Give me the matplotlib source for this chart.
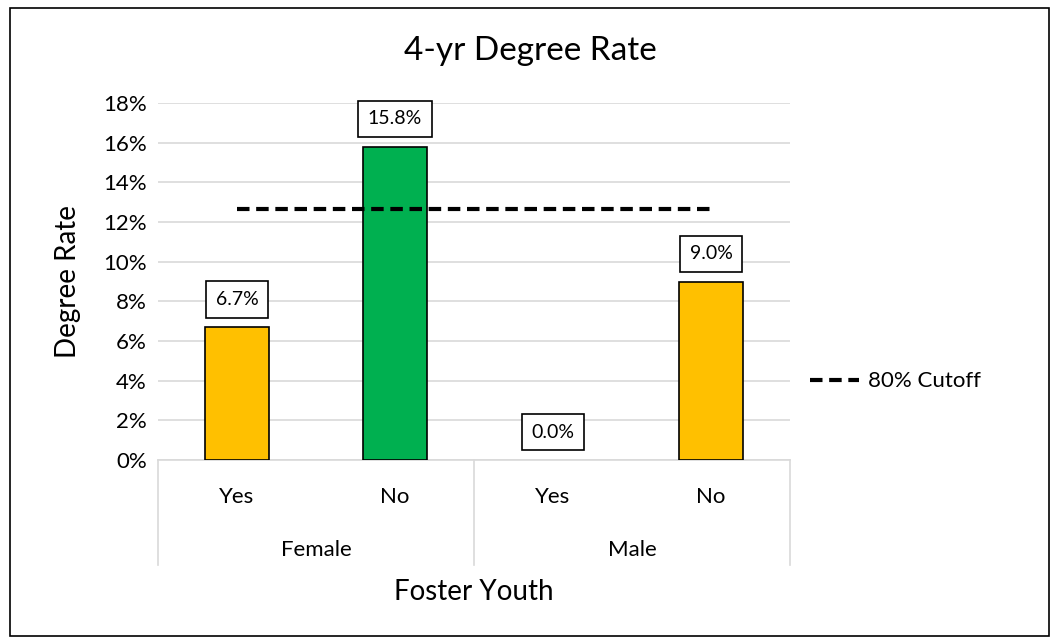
import matplotlib.pyplot as plt
from matplotlib.patches import Rectangle
from matplotlib.lines import Line2D

plt.rcParams['font.family'] = ['Lato', 'DejaVu Sans']

# data
genders = ["Female", "Male"]
foster = ["Yes", "No", "Yes", "No"]
rates = [6.7, 15.8, 0.0, 9.0]
bar_colors = ["#ffc000", "#00b050", "#ffc000", "#ffc000"]
cutoff = 12.64   # 80% of the highest rate

fig = plt.figure(figsize=(10.57, 6.44), dpi=100)
ax = fig.add_axes([0.1495, 0.2857, 0.598, 0.5543])

x = list(range(len(rates)))
edges = ["black" if v > 0 else "none" for v in rates]   # a 0% bar shows nothing
ax.bar(x, rates, width=0.4, color=bar_colors, edgecolor=edges, linewidth=1.2, zorder=3)
ax.plot([x[0], x[-1]], [cutoff, cutoff], color="black", linestyle=(0, (3, 1.6)),
        linewidth=3, zorder=4)

for i, v in enumerate(rates):
    ax.text(i, v + 1.4, "%.1f%%" % v, ha="center", va="center", fontsize=14, zorder=5,
            bbox=dict(boxstyle="square,pad=0.5", facecolor="white", edgecolor="black", linewidth=1.2))

ax.set_xlim(-0.5, 3.5)
ax.set_ylim(0, 18)
ax.set_yticks(range(0, 19, 2))
ax.set_yticklabels(["%d%%" % t for t in range(0, 19, 2)], fontsize=16)
ax.tick_params(axis="y", length=0, pad=8)
ax.set_xticks([])
ax.grid(axis="y", color="#d9d9d9", linewidth=1.2, zorder=0)
for s in ["top", "right", "left"]:
    ax.spines[s].set_visible(False)
ax.spines["bottom"].set_color("#d9d9d9")
ax.spines["bottom"].set_linewidth(1.2)

# two-level category axis
tr = ax.get_xaxis_transform()
for sx in [-0.5, 1.5, 3.5]:
    ax.add_line(Line2D([sx, sx], [0, -0.294], transform=tr, color="#d9d9d9",
                       linewidth=1.2, clip_on=False))
for i, lab in enumerate(foster):
    ax.text(i, -0.104, lab, transform=tr, ha="center", va="center", fontsize=16)
for j, g in enumerate(genders):
    ax.text(0.5 + 2 * j, -0.252, g, transform=tr, ha="center", va="center", fontsize=16)

ax.text(1.5, -0.37, "Foster Youth", transform=tr, ha="center", va="center", fontsize=20)
ax.set_ylabel("Degree Rate", fontsize=20, labelpad=16)
fig.text(0.502, 0.921, "4-yr Degree Rate", ha="center", va="center", fontsize=24)

# legend
leg = ax.legend(handles=[Line2D([], [], color="black", linestyle=(0, (3, 1.6)), linewidth=3)],
                labels=["80% Cutoff"], loc="center left", bbox_to_anchor=(1.0, 0.22),
                frameon=False, fontsize=16, handlelength=2.2, handletextpad=0.4)

# chart border
fig.patches.append(Rectangle((0.009, 0.013), 0.983, 0.975, transform=fig.transFigure,
                             fill=False, edgecolor="black", linewidth=1.2))

fig.savefig("out.png", dpi=100)
